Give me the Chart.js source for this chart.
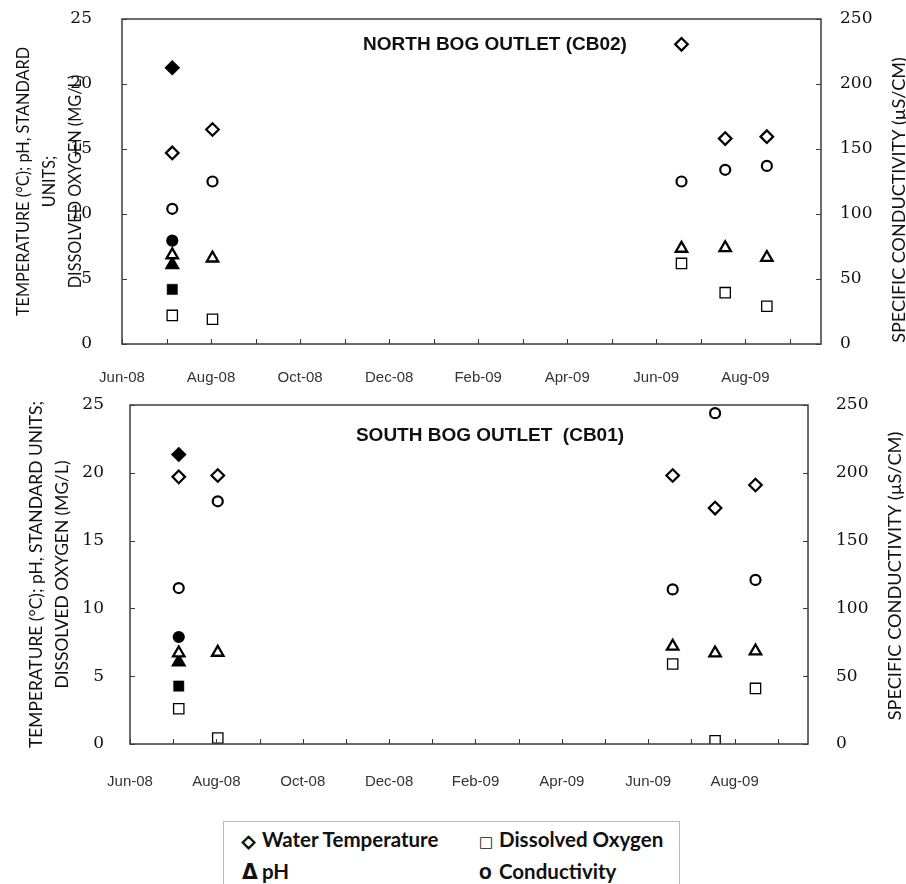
<!DOCTYPE html>
<html>
<head>
<meta charset="utf-8">
<script src="https://cdn.jsdelivr.net/npm/chart.js@4.4.1/dist/chart.umd.min.js"></script>
<style>
  body { margin: 0; background: #fff; width: 906px; height: 884px; position: relative; overflow: hidden; }
  canvas { position: absolute; left: 0; }
  #northChart { top: 0; }
  #southChart { top: 390px; }
  #legend {
    position: absolute; left: 223px; top: 821px; width: 457px; height: 90px;
    border: 1px solid #b8b8b8; box-sizing: border-box;
    font-family: Lato, sans-serif; font-weight: bold; font-size: 20.5px; color: #111;
  }
  #legend .item { position: absolute; white-space: nowrap; line-height: 24px; }
  #legend .sym { display: inline-block; width: 20px; font-family: "DejaVu Sans", sans-serif; font-weight: bold; }
  #legend .sym.small { font-size: 15px; }
  #legend .sym.thick { -webkit-text-stroke: 1.3px #111; font-size: 17px; }
</style>
</head>
<body>
<canvas id="northChart" width="906" height="390"></canvas>
<canvas id="southChart" width="906" height="410"></canvas>
<div id="legend"></div>

<script>
// month tick labels, one per month starting Jun-08 (only every 2nd is shown)
const monthLabels = ['Jun-08', '', 'Aug-08', '', 'Oct-08', '', 'Dec-08', '', 'Feb-09', '', 'Apr-09', '', 'Jun-09', '', 'Aug-09', ''];

const sampleDates = ['2008-07-05', '2008-08-02', '2009-06-18', '2009-07-18', '2009-08-16'];
const earlyDate = ['2008-07-05'];

// North bog outlet (CB02)
const northTemp = [14.7, 16.5, 23.05, 15.8, 15.95];
const northDO   = [2.2, 1.9, 6.2, 3.95, 2.9];
const northPH   = [6.85, 6.6, 7.35, 7.4, 6.65];
const northCond = [104, 125, 125, 134, 137];
const northEarlyTemp = [21.25];
const northEarlyDO   = [4.2];
const northEarlyPH   = [6.1];
const northEarlyCond = [79.5];

// South bog outlet (CB01)
const southTemp = [19.7, 19.8, 19.8, 17.4, 19.1];
const southDO   = [2.6, 0.44, 5.9, 0.24, 4.1];
const southPH   = [6.7, 6.75, 7.2, 6.7, 6.85];
const southCond = [115, 179, 114, 244, 121];
const southEarlyTemp = [21.35];
const southEarlyDO   = [4.27];
const southEarlyPH   = [6.05];
const southEarlyCond = [78.9];

const legendItems = [
  { sym: '\u25C7', label: 'Water Temperature', cls: 'thick' },
  { sym: '\u25A1', label: 'Dissolved Oxygen', cls: 'small' },
  { sym: '\u0394', label: 'pH', cls: '' },
  { sym: 'O', label: 'Conductivity', cls: 'small' }
];

// months since 1 Jun 2008
function monthOffset(s) {
  const [y, m, d] = s.split('-').map(Number);
  const days = new Date(y, m, 0).getDate();
  return (y - 2008) * 12 + (m - 6) + (d - 1) / days;
}

function pts(dates, vals) {
  return vals.map((v, i) => ({ x: monthOffset(dates[i]), y: v }));
}

function markerSet(dates, temp, dox, ph, cond, fill) {
  const bg = fill ? '#000' : '#fff';
  return [
    { label: 'Water Temperature', data: pts(dates, temp), pointStyle: 'rectRot', pointRadius: 6.3, pointBorderWidth: 2.2, yAxisID: 'y', backgroundColor: bg },
    { label: 'Dissolved Oxygen', data: pts(dates, dox), pointStyle: 'rect', pointRadius: 7.3, pointBorderWidth: fill ? 0.5 : 1.3, yAxisID: 'y', backgroundColor: bg },
    { label: 'pH', data: pts(dates, ph), pointStyle: 'triangle', pointRadius: 6.6, pointBorderWidth: 2.3, yAxisID: 'y', backgroundColor: bg },
    { label: 'Conductivity', data: pts(dates, cond), pointStyle: 'circle', pointRadius: 5, pointBorderWidth: 2.2, yAxisID: 'y2', backgroundColor: bg }
  ].map(ds => Object.assign(ds, { borderColor: '#000', showLine: false, pointHoverRadius: ds.pointRadius }));
}

// frame, inner tick marks, in-plot title and right-hand axis title
const decorations = {
  id: 'decorations',
  afterDraw(chart, args, opts) {
    const { ctx, chartArea: a, scales } = chart;
    ctx.save();
    ctx.strokeStyle = '#3c3c3c';
    ctx.lineWidth = 1.5;
    ctx.strokeRect(a.left, a.top, a.right - a.left, a.bottom - a.top);

    ctx.lineWidth = 1;
    ctx.beginPath();
    scales.x.ticks.forEach(t => {
      const px = Math.round(scales.x.getPixelForValue(t.value)) + 0.5;
      ctx.moveTo(px, a.bottom); ctx.lineTo(px, a.bottom - 5);
    });
    scales.y.ticks.forEach(t => {
      const py = Math.round(scales.y.getPixelForValue(t.value)) + 0.5;
      ctx.moveTo(a.left, py); ctx.lineTo(a.left + 5, py);
    });
    scales.y2.ticks.forEach(t => {
      const py = Math.round(scales.y2.getPixelForValue(t.value)) + 0.5;
      ctx.moveTo(a.right, py); ctx.lineTo(a.right - 5, py);
    });
    ctx.stroke();

    ctx.fillStyle = '#111';
    ctx.font = 'bold 19px "Liberation Sans", Arial, sans-serif';
    ctx.textAlign = 'center';
    ctx.textBaseline = 'middle';
    ctx.fillText(opts.title, opts.titleX, opts.titleY);

    ctx.font = opts.sideSize + 'px Lato, sans-serif';
    ctx.translate(opts.sideX, opts.sideY);
    ctx.rotate(-Math.PI / 2);
    ctx.fillText('SPECIFIC CONDUCTIVITY (\u00B5S/CM)', 0, 0);
    ctx.restore();
  }
};

function makeChart(id, cfg) {
  const datasets = markerSet(sampleDates, cfg.temp, cfg.dox, cfg.ph, cfg.cond, false)
    .concat(markerSet(earlyDate, cfg.eTemp, cfg.eDox, cfg.ePh, cfg.eCond, true));
  const tickFont = { family: '"DejaVu Serif", serif', size: 17 };
  return new Chart(document.getElementById(id), {
    type: 'scatter',
    data: { datasets },
    plugins: [decorations],
    options: {
      responsive: false,
      animation: false,
      layout: { padding: { top: cfg.padTop, left: 0, right: 0, bottom: 0 } },
      plugins: {
        legend: { display: false },
        tooltip: { enabled: false },
        decorations: cfg.deco
      },
      scales: {
        x: {
          type: 'linear', min: 0, max: 15.7,
          grid: { display: false }, border: { display: false },
          ticks: {
            stepSize: 1, autoSkip: false, includeBounds: false, maxRotation: 0,
            padding: cfg.xPad, color: '#333',
            font: { family: '"Liberation Sans", Arial, sans-serif', size: 15 },
            callback: v => monthLabels[v] ?? ''
          },
          afterFit: s => { s.height = cfg.xHeight; }
        },
        y: {
          position: 'left', min: 0, max: 25,
          grid: { display: false }, border: { display: false },
          ticks: { stepSize: 5, padding: cfg.yPad, color: '#111', font: tickFont },
          title: {
            display: true, text: cfg.yTitle, color: '#111',
            font: { family: 'Lato, sans-serif', size: cfg.yTitleSize, lineHeight: '26px' },
            padding: { top: cfg.yTitlePad, bottom: 0 }
          },
          afterFit: s => { s.width = cfg.yWidth; s.paddingTop = 0; s.paddingBottom = 0; }
        },
        y2: {
          position: 'right', min: 0, max: 250,
          grid: { display: false }, border: { display: false },
          ticks: { stepSize: 50, padding: cfg.y2Pad, color: '#111', font: tickFont },
          afterFit: s => { s.width = cfg.y2Width; s.paddingTop = 0; s.paddingBottom = 0; }
        }
      }
    }
  });
}

makeChart('northChart', {
  temp: northTemp, dox: northDO, ph: northPH, cond: northCond,
  eTemp: northEarlyTemp, eDox: northEarlyDO, ePh: northEarlyPH, eCond: northEarlyCond,
  padTop: 19, xHeight: 46, xPad: 17, yPad: 22, yWidth: 122, y2Pad: 11, y2Width: 85,
  yTitle: ['TEMPERATURE (\u00B0C); pH, STANDARD', 'UNITS;', 'DISSOLVED OXYGEN (MG/L)'],
  yTitleSize: 16.3, yTitlePad: 11,
  deco: { title: 'NORTH BOG OUTLET (CB02)', titleX: 495, titleY: 45, sideX: 899, sideY: 200, sideSize: 18 }
});

makeChart('southChart', {
  temp: southTemp, dox: southDO, ph: southPH, cond: southCond,
  eTemp: southEarlyTemp, eDox: southEarlyDO, ePh: southEarlyPH, eCond: southEarlyCond,
  padTop: 15, xHeight: 56, xPad: 21, yPad: 18, yWidth: 130, y2Pad: 20, y2Width: 98,
  yTitle: ['TEMPERATURE (\u00B0C); pH, STANDARD UNITS;', 'DISSOLVED OXYGEN (MG/L)'],
  yTitleSize: 17.4, yTitlePad: 23,
  deco: { title: 'SOUTH BOG OUTLET  (CB01)', titleX: 490, titleY: 46, sideX: 895, sideY: 186, sideSize: 18.2 }
});

// legend box below the charts
const legendEl = document.getElementById('legend');
const legendPos = [[18, 5], [255, 5], [18, 37], [255, 37]];
legendItems.forEach((it, i) => {
  const d = document.createElement('div');
  d.className = 'item';
  d.style.left = legendPos[i][0] + 'px';
  d.style.top = legendPos[i][1] + 'px';
  d.innerHTML = '<span class="sym ' + it.cls + '">' + it.sym + '</span>' + it.label;
  legendEl.appendChild(d);
});
</script>
</body>
</html>
